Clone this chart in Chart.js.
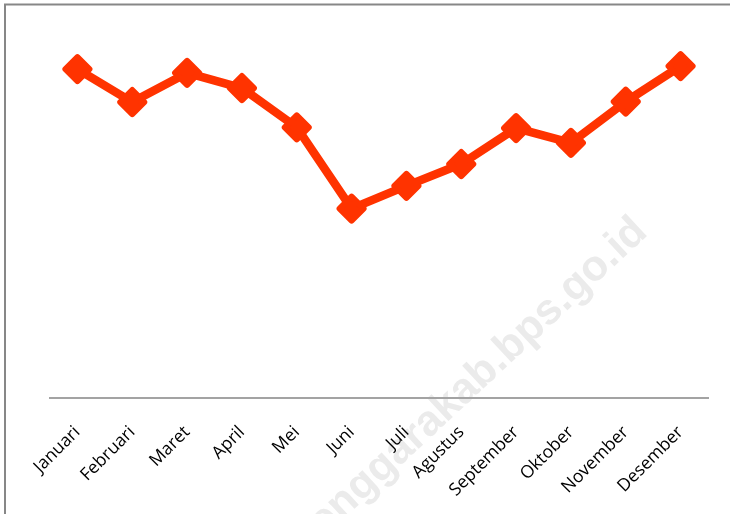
<!DOCTYPE html>
<html>
<head>
<meta charset="utf-8">
<script src="https://cdn.jsdelivr.net/npm/chart.js@4"></script>
<style>
  html, body { margin: 0; padding: 0; background: #ffffff; }
  canvas { display: block; }
</style>
</head>
<body>
<canvas id="c" width="730" height="514"></canvas>
<script>
const categories = ['Januari', 'Februari', 'Maret', 'April', 'Mei', 'Juni', 'Juli', 'Agustus', 'September', 'Oktober', 'November', 'Desember'];
const seriesValues = [87.0, 78.3, 86.0, 82.0, 71.6, 50.1, 56.1, 61.9, 71.4, 67.5, 78.4, 87.8];
const watermarkText = 'malukutenggarakab.bps.go.id';

const decorPlugin = {
  id: 'decor',
  beforeDraw(chart) {
    const ctx = chart.ctx;
    ctx.save();
    ctx.fillStyle = '#ffffff';
    ctx.fillRect(0, 0, chart.width, chart.height);
    ctx.font = 'bold 43px "Liberation Sans", Arial, sans-serif';
    ctx.fillStyle = '#ebebeb';
    ctx.textAlign = 'right';
    ctx.textBaseline = 'alphabetic';
    ctx.translate(649, 234);
    ctx.rotate(-43 * Math.PI / 180);
    ctx.fillText(watermarkText, 0, 0);
    ctx.restore();
  },
  beforeDatasetsDraw(chart) {
    chart.ctx.save();
    chart.ctx.lineJoin = 'round';
  },
  afterDatasetsDraw(chart) {
    chart.ctx.restore();
  },
  afterDraw(chart) {
    const ctx = chart.ctx;
    ctx.save();
    ctx.strokeStyle = '#878787';
    ctx.lineWidth = 2;
    ctx.beginPath();
    ctx.moveTo(5, 514);
    ctx.lineTo(5, 4.5);
    ctx.lineTo(730, 4.5);
    ctx.stroke();
    ctx.restore();
  }
};

new Chart(document.getElementById('c'), {
  type: 'line',
  data: {
    labels: categories,
    datasets: [{
      data: seriesValues,
      borderColor: '#ff3300',
      backgroundColor: '#ff3300',
      borderWidth: 8.5,
      borderJoinStyle: 'round',
      borderCapStyle: 'round',
      pointStyle: 'rectRot',
      pointRadius: 12,
      pointHoverRadius: 12,
      pointBorderWidth: 6,
      pointBackgroundColor: '#ff3300',
      pointBorderColor: '#ff3300',
      tension: 0,
      clip: false
    }]
  },
  options: {
    responsive: false,
    devicePixelRatio: 1,
    animation: false,
    layout: { padding: { left: 50, right: 22, top: 20, bottom: 0 } },
    plugins: { legend: { display: false }, tooltip: { enabled: false } },
    scales: {
      x: {
        offset: true,
        grid: { display: false },
        border: { display: true, color: '#a3a3a3', width: 2 },
        ticks: {
          color: '#000000',
          font: { family: '"Open Sans", sans-serif', size: 17.5 },
          minRotation: 45,
          maxRotation: 45,
          autoSkip: false,
          padding: 16
        },
        afterFit(scale) {
          scale.height = 116;
          scale.paddingLeft = 0;
          scale.paddingRight = 0;
        }
      },
      y: {
        display: false,
        min: 0,
        max: 100
      }
    }
  },
  plugins: [decorPlugin]
});
</script>
</body>
</html>
